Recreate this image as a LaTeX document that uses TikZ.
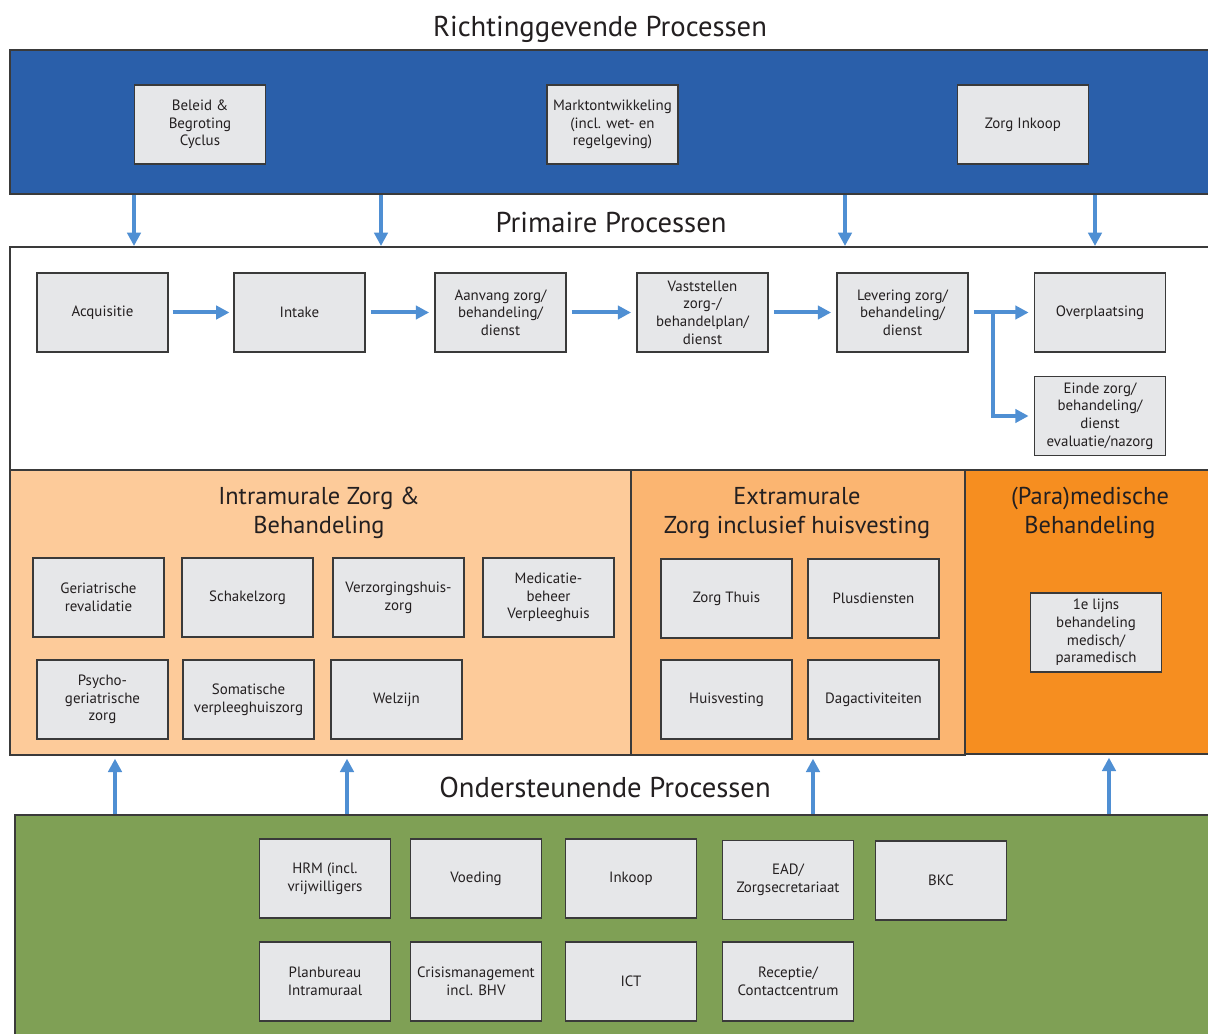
\documentclass[tikz,border=0pt]{standalone}
\usepackage{fontspec}
\setmainfont{PT Sans}
\usetikzlibrary{arrows.meta,fit}
\definecolor{bandblue}{HTML}{2A5FAA}
\definecolor{intra}{HTML}{FDCB9A}
\definecolor{extra}{HTML}{FBB571}
\definecolor{para}{HTML}{F68E20}
\definecolor{greenband}{HTML}{7FA055}
\definecolor{boxfill}{HTML}{E6E7E9}
\definecolor{boxline}{HTML}{3A3A3A}
\definecolor{arrowblue}{HTML}{4F8FD3}
\definecolor{txt}{HTML}{231F20}
\tikzset{
  band/.style={draw=boxline, line width=1.5pt, inner sep=0pt},
  bx/.style={draw=boxline, fill=boxfill, line width=1.1pt, minimum width=98pt, minimum height=59pt,
    inner sep=0pt, align=center, text=txt, font=\fontsize{11.2}{13.2}\selectfont},
  ttl/.style={text=txt, align=center, inner sep=0pt, font=\fontsize{21.5}{24}\selectfont},
  sttl/.style={text=txt, align=center, inner sep=0pt, font=\fontsize{18.3}{21.75}\selectfont},
  arr/.style={draw=arrowblue, line width=3pt, -{Triangle[length=10pt,width=10pt]}}
}
\begin{document}
\begin{tikzpicture}[x=0.75pt,y=-0.75pt]
\useasboundingbox (0,0) rectangle (1208,1034);
\clip (0,0) rectangle (1208,1034);
\fill[white] (0,0) rectangle (1208,1034);
% bands
\node[band, fill=bandblue, fit={(10,50) (1214,194)}] (blue) {};
\node[band, fill=white, fit={(10,247) (1214,470)}] (white) {};
\node[band, fill=intra, fit={(10,470) (631,755)}] (intra) {};
\node[band, fill=extra, fit={(631,470) (965,755)}] (extra) {};
\node[band, fill=para, fit={(965,470) (1214,754)}] (para) {};
\node[band, fill=greenband, fit={(15,815) (1214,1040)}] (green) {};
% titles
\node[ttl] (tRich) at (600,29) {Richtinggevende Processen};
\node[ttl] (tPrim) at (611,223) {Primaire Processen};
\node[ttl] (tOnd) at (605,787) {Ondersteunende Processen};
\node[sttl] (tIntra) at (319,513) {Intramurale Zorg \&\\Behandeling};
\node[sttl] (tExtra) at (797,513) {Extramurale\\Zorg inclusief huisvesting};
\node[sttl] (tPara) at (1090,513) {(Para)medische\\Behandeling};
% top boxes
\node[bx] (beleid) at (200,124.5) {Beleid \&\\Begroting\\Cyclus};
\node[bx] (markt) at (612.5,124.5) {Marktontwikkeling\\(incl. wet- en\\regelgeving)};
\node[bx] (zinkoop) at (1023,124.5) {Zorg Inkoop};
% primary
\node[bx] (acq) at (102.5,312.5) {Acquisitie};
\node[bx] (intake) at (299.5,312.5) {Intake};
\node[bx] (aanvang) at (500.5,312.5) {Aanvang zorg/\\behandeling/\\dienst};
\node[bx] (vast) at (702.5,312.5) {Vaststellen\\zorg-/\\behandelplan/\\dienst};
\node[bx] (lev) at (902.5,312.5) {Levering zorg/\\behandeling/\\dienst};
\node[bx] (overpl) at (1100,312.5) {Overplaatsing};
\node[bx] (einde) at (1100,416) {Einde zorg/\\behandeling/\\dienst\\evaluatie/nazorg};
% intramurale
\node[bx] (geri) at (98.5,597.5) {Geriatrische\\revalidatie};
\node[bx] (schakel) at (247.5,597.5) {Schakelzorg};
\node[bx] (verz) at (398.5,597.5) {Verzorgingshuis-\\zorg};
\node[bx] (medic) at (548.5,597.5) {Medicatie-\\beheer\\Verpleeghuis};
\node[bx] (psycho) at (102.5,699.5) {Psycho-\\geriatrische\\zorg};
\node[bx] (soma) at (248.5,699.5) {Somatische\\verpleeghuiszorg};
\node[bx] (welzijn) at (396.5,699.5) {Welzijn};
% extramurale
\node[bx] (zthuis) at (726.5,598.5) {Zorg Thuis};
\node[bx] (plus) at (873.5,598.5) {Plusdiensten};
\node[bx] (huisv) at (726.5,699.5) {Huisvesting};
\node[bx] (dag) at (873.5,699.5) {Dagactiviteiten};
% para
\node[bx] (lijns) at (1096,632.5) {1e lijns\\behandeling\\medisch/\\paramedisch};
% ondersteunend
\node[bx] (hrm) at (325,878.5) {HRM (incl.\\vrijwilligers};
\node[bx] (voeding) at (476,878.5) {Voeding};
\node[bx] (inkoop) at (631,878.5) {Inkoop};
\node[bx] (ead) at (788,880) {EAD/\\Zorgsecretariaat};
\node[bx] (bkc) at (941,880.5) {BKC};
\node[bx] (plan) at (325,981.5) {Planbureau\\Intramuraal};
\node[bx] (crisis) at (476,981.5) {Crisismanagement\\incl. BHV};
\node[bx] (ict) at (631,981.5) {ICT};
\node[bx] (recep) at (788,981.5) {Receptie/\\Contactcentrum};
% arrow columns
\coordinate (xa) at (134,0);
\coordinate (xb) at (381,0);
\coordinate (xc) at (845,0);
\coordinate (xd) at (1095,0);
\coordinate (xe) at (115,0);
\coordinate (xf) at (347,0);
\coordinate (xg) at (813,0);
\coordinate (xh) at (1109,0);
\coordinate (jn) at (993,312.5);
% arrows down
\foreach \c in {xa,xb,xc,xd}
  \draw[arr] (blue.south -| \c) -- (white.north -| \c);
% arrows up
\draw[arr, shorten >=2pt] (green.north -| xe) -- (intra.south -| xe);
\draw[arr, shorten >=2pt] (green.north -| xf) -- (intra.south -| xf);
\draw[arr, shorten >=2pt] (green.north -| xg) -- (extra.south -| xg);
\draw[arr, shorten >=2pt] (green.north -| xh) -- (para.south -| xh);
% primary flow
\draw[arr, shorten <=3pt, shorten >=3pt] (acq.east) -- (intake.west);
\draw[arr, shorten <=4pt, shorten >=4pt] (intake.east) -- (aanvang.west);
\draw[arr, shorten <=4pt, shorten >=4pt] (aanvang.east) -- (vast.west);
\draw[arr, shorten <=4pt, shorten >=4pt] (vast.east) -- (lev.west);
\draw[arr, shorten <=4pt, shorten >=4pt] (lev.east) -- (overpl.west);
\draw[arr, shorten >=4pt] (jn) |- (einde.west);
\end{tikzpicture}
\end{document}
